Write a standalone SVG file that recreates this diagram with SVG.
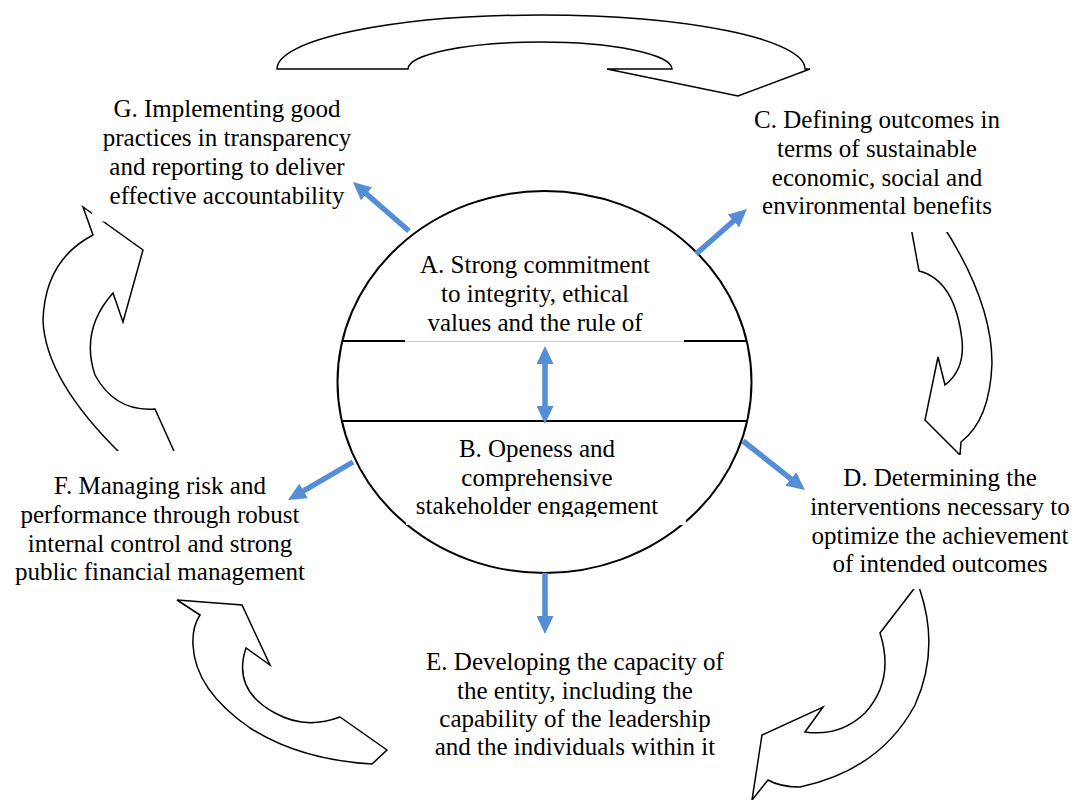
<svg xmlns="http://www.w3.org/2000/svg" width="1075" height="800" viewBox="0 0 1075 800">
<style>
.bg{fill:#fff}
.block{fill:#fff;stroke:#000;stroke-width:1.5;stroke-linejoin:miter}
.box{fill:#fff}
.lbl{font-family:"Liberation Serif","Times New Roman",serif;font-size:25px;fill:#000;text-anchor:middle}
.link{stroke:#558ED5;stroke-width:5.5;fill:none}
.rule{stroke:#000;stroke-width:2;fill:none}
</style>
<defs>
<marker id="head" viewBox="0 0 18 17" markerWidth="18" markerHeight="17" markerUnits="userSpaceOnUse" refX="6" refY="8.5" orient="auto-start-reverse"><path d="M0,0 L18,8.5 L0,17 z" fill="#558ED5"/></marker>
<clipPath id="clipB"><rect x="400" y="425" width="290" height="92"/></clipPath>
</defs>
<rect class="bg" x="0" y="0" width="1075" height="800"/>

<!-- curved cycle arrows -->
<g id="cycle">
<path id="arc-gc" class="block" d="M277,69 A264,54 0 0 1 805,69 L810,69 L738,96 L607,69 L672,69 A132,27 0 0 0 408,69 Z"/>
<path id="arc-cd" class="block" d="M940,221 Q992,300 992,363 Q990,420 961,442 L960,455 L925,420 L938,357 L945,385 Q965,370 962,340 Q955,280 919,271 L910,222 Z"/>
<path id="arc-de" class="block" d="M920,581 L880,633 Q895,680 865,713 Q840,737 805,732 L823,707 L762,735 L752,800 L768,780 Q780,787 800,787 Q880,770 915,705 Q940,650 920,590 L915,576 Z"/>
<path id="arc-ef" class="block" d="M200,615 L177,600 L242,605 L270,665 L246,648 Q232,690 275,713 Q305,730 340,717 L387,750 L372,764 Q300,760 250,728 Q195,690 193,645 Q192,627 200,615 Z"/>
<path id="arc-fg" class="block" d="M122,455 Q45,380 43,320 Q45,260 93,235 L83,207 L143,250 L123,322 L113,293 Q80,330 95,375 Q115,412 155,409 L177,458 Z"/>
</g>

<!-- central circle holding A and B -->
<g id="core">
<ellipse cx="544.5" cy="382" rx="207" ry="191" fill="#fff" stroke="#000" stroke-width="2"/>
<line class="rule" x1="342" y1="341" x2="747" y2="341"/>
<line class="rule" x1="342" y1="421" x2="747" y2="421"/>
</g>

<!-- text boxes -->
<g id="node-a">
<rect class="box" x="405" y="250" width="279" height="91.5"/>
<line x1="405" y1="341.5" x2="684" y2="341.5" stroke="#cfcfcf" stroke-width="1"/>
<text class="lbl" x="535" y="273">A. Strong commitment</text>
<text class="lbl" x="535" y="302">to integrity, ethical</text>
<text class="lbl" x="535" y="331">values and the rule of</text>
</g>
<g id="node-b">
<rect class="box" x="406" y="425" width="280" height="100"/>
<g clip-path="url(#clipB)">
<text class="lbl" x="537" y="457">B. Openess and</text>
<text class="lbl" x="537" y="486">comprehensive</text>
<text class="lbl" x="537" y="514">stakeholder engagement</text>
</g>
</g>
<g id="node-c">
<rect class="box" x="752" y="100" width="252" height="132"/>
<text class="lbl" x="877" y="128">C. Defining outcomes in</text>
<text class="lbl" x="877" y="157">terms of sustainable</text>
<text class="lbl" x="877" y="186">economic, social and</text>
<text class="lbl" x="877" y="214">environmental benefits</text>
</g>
<g id="node-d">
<rect class="box" x="800" y="455" width="275" height="134"/>
<text class="lbl" x="940" y="486">D. Determining the</text>
<text class="lbl" x="940" y="515">interventions necessary to</text>
<text class="lbl" x="940" y="544">optimize the achievement</text>
<text class="lbl" x="940" y="572">of intended outcomes</text>
</g>
<g id="node-e">
<rect class="box" x="390" y="640" width="355" height="160"/>
<text class="lbl" x="575" y="670">E. Developing the capacity of</text>
<text class="lbl" x="575" y="699">the entity, including the</text>
<text class="lbl" x="575" y="727">capability of the leadership</text>
<text class="lbl" x="575" y="755">and the individuals within it</text>
</g>
<g id="node-f">
<rect class="box" x="10" y="451" width="302" height="148"/>
<text class="lbl" x="160" y="494">F. Managing risk and</text>
<text class="lbl" x="160" y="523">performance through robust</text>
<text class="lbl" x="160" y="552">internal control and strong</text>
<text class="lbl" x="160" y="580">public financial management</text>
</g>
<g id="node-g">
<rect class="box" x="92" y="88" width="272" height="133.5"/>
<text class="lbl" x="227" y="117">G. Implementing good</text>
<text class="lbl" x="227" y="146">practices in transparency</text>
<text class="lbl" x="227" y="175">and reporting to deliver</text>
<text class="lbl" x="227" y="204">effective accountability</text>
</g>

<!-- connectors -->
<g id="connectors">
<line class="link" x1="409" y1="231" x2="362" y2="190" marker-end="url(#head)"/>
<line class="link" x1="696" y1="254" x2="738" y2="217" marker-end="url(#head)"/>
<line class="link" x1="743" y1="441" x2="795.6" y2="482.6" marker-end="url(#head)"/>
<line class="link" x1="353" y1="462" x2="298.4" y2="493.9" marker-end="url(#head)"/>
<line class="link" x1="545" y1="573" x2="545" y2="622" marker-end="url(#head)"/>
<line class="link" x1="545" y1="358" x2="545" y2="412" marker-start="url(#head)" marker-end="url(#head)"/>
</g>
</svg>
